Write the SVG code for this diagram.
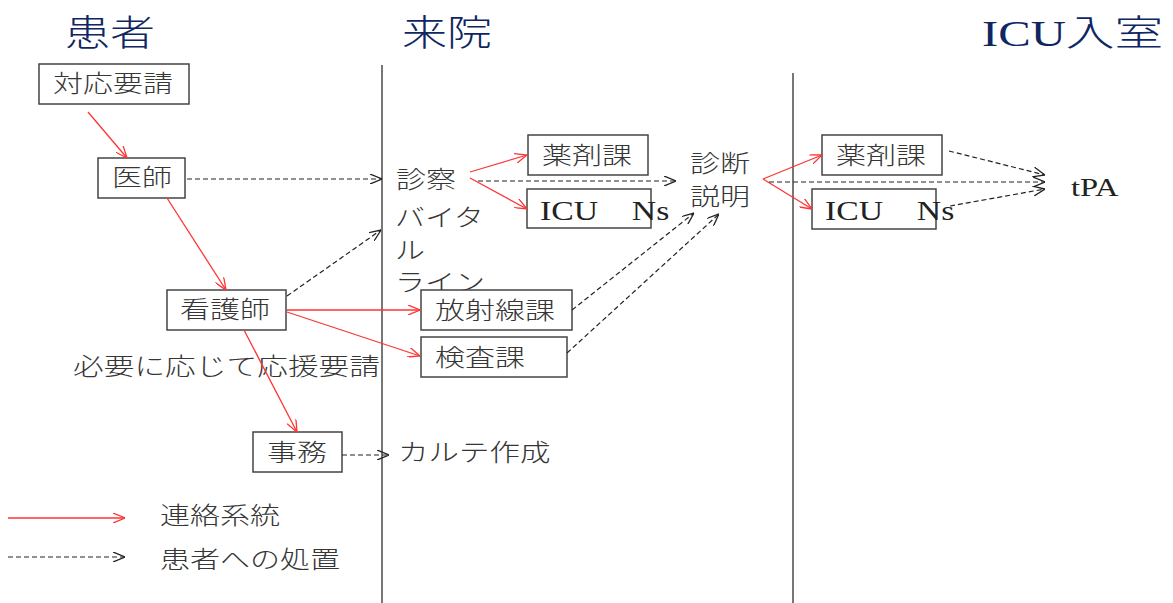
<svg xmlns="http://www.w3.org/2000/svg" width="1173" height="603" viewBox="0 0 1173 603">
<style>
  text { font-family: "Liberation Serif", "Noto Sans CJK JP", serif; }
  .t { font-size: 24px; fill: #363636; font-weight: 300; dominant-baseline: central; }
  .lat { font-size: 27px; fill: #222; }
  .tpa { font-size: 26px; fill: #222; }
  .title { font-size: 36px; fill: #0e2763; font-weight: 300; }
  .box { fill: #fff; stroke: #444; stroke-width: 1.5; }
  .lane { stroke: #555; stroke-width: 1.6; fill: none; }
  .red { stroke: #ff3434; stroke-width: 1.3; fill: none; marker-end: url(#ar); }
  .dash { stroke: #222; stroke-width: 1.2; fill: none; stroke-dasharray: 5 3; marker-end: url(#ad); }
</style>
<defs>
  <marker id="ar" viewBox="0 0 12 10" markerWidth="12" markerHeight="10" refX="12" refY="5" orient="auto" markerUnits="userSpaceOnUse">
    <path d="M0,0 L12,5 L0,10" fill="none" stroke="#ff3434" stroke-width="1.3"/>
  </marker>
  <marker id="ad" viewBox="0 0 12 10" markerWidth="12" markerHeight="10" refX="12" refY="5" orient="auto" markerUnits="userSpaceOnUse">
    <path d="M0,0 L12,5 L0,10" fill="none" stroke="#222" stroke-width="1.3"/>
  </marker>
</defs>
<rect width="1173" height="603" fill="#fff"/>

<g id="titles">
  <text class="title" transform="translate(65,46) scale(1.25,1)">患者</text>
  <text class="title" transform="translate(402,46) scale(1.25,1)">来院</text>
  <text class="title" transform="translate(982,46) scale(1.25,1)" textLength="145" lengthAdjust="spacingAndGlyphs">ICU入室</text>
</g>

<g id="lanes">
  <line class="lane" x1="382" y1="65" x2="382" y2="603"/>
  <line class="lane" x1="793" y1="73" x2="793" y2="603"/>
</g>

<g id="n-taiou">
  <rect class="box" x="39" y="64" width="150" height="40"/>
  <text class="t" transform="translate(53,84) scale(1.25,1)">対応要請</text>
</g>
<g id="n-ishi">
  <rect class="box" x="98" y="158" width="87" height="40"/>
  <text class="t" transform="translate(112,178) scale(1.25,1)">医師</text>
</g>
<g id="n-kangoshi">
  <rect class="box" x="167" y="290" width="119" height="40"/>
  <text class="t" transform="translate(180,310) scale(1.25,1)">看護師</text>
</g>
<g id="n-ouen">
  <text class="t" transform="translate(73,367) scale(1.28,1)">必要に応じて応援要請</text>
</g>
<g id="n-jimu">
  <rect class="box" x="253" y="432" width="89" height="40"/>
  <text class="t" transform="translate(267,453) scale(1.25,1)">事務</text>
</g>
<g id="n-karte">
  <text class="t" transform="translate(398,453) scale(1.27,1)">カルテ作成</text>
</g>
<g id="n-shinsatsu">
  <text class="t" transform="translate(396,180) scale(1.25,1)">診察</text>
</g>
<g id="n-vital">
  <text class="t" transform="translate(395,218) scale(1.25,1)">バイタ</text>
  <text class="t" transform="translate(395,251) scale(1.25,1)">ル</text>
  <text class="t" transform="translate(395,283) scale(1.25,1)">ライン</text>
</g>
<g id="n-yakuzai1">
  <rect class="box" x="528" y="135" width="120" height="40"/>
  <text class="t" transform="translate(542,156) scale(1.25,1)">薬剤課</text>
</g>
<g id="n-icu1">
  <rect class="box" x="527" y="189" width="124" height="39"/>
  <text class="lat" transform="translate(540,220) scale(1.25,1)">ICU　Ns</text>
</g>
<g id="n-houshasen">
  <rect class="box" x="421" y="290" width="151" height="40"/>
  <text class="t" transform="translate(435,311) scale(1.25,1)">放射線課</text>
</g>
<g id="n-kensa">
  <rect class="box" x="421" y="337" width="146" height="40"/>
  <text class="t" transform="translate(435,358) scale(1.25,1)">検査課</text>
</g>
<g id="n-shindan">
  <text class="t" transform="translate(690,164) scale(1.25,1)">診断</text>
  <text class="t" transform="translate(690,197) scale(1.25,1)">説明</text>
</g>
<g id="n-yakuzai2">
  <rect class="box" x="822" y="135" width="120" height="40"/>
  <text class="t" transform="translate(836,156) scale(1.25,1)">薬剤課</text>
</g>
<g id="n-icu2">
  <rect class="box" x="812" y="189" width="124" height="40"/>
  <text class="lat" transform="translate(825,220) scale(1.25,1)">ICU　Ns</text>
</g>
<g id="n-tpa">
  <text class="tpa" transform="translate(1071,196) scale(1.25,1)">tPA</text>
</g>

<g id="legend">
  <path class="red" d="M8,518 L125,518"/>
  <text class="t" transform="translate(160,516) scale(1.25,1)">連絡系統</text>
  <path class="dash" d="M8,557 L125,557"/>
  <text class="t" transform="translate(160,560) scale(1.25,1)">患者への処置</text>
</g>

<g id="connectors">
  <path class="red" d="M88,112 L127,158"/>
  <path class="red" d="M167,198 L226,290"/>
  <path class="red" d="M244,330 L297,432"/>
  <path class="red" d="M287,310 L420,310"/>
  <path class="red" d="M287,312 L420,356"/>
  <path class="red" d="M470,172 L527,155"/>
  <path class="red" d="M470,178 L527,209"/>
  <path class="red" d="M763,179 L822,155"/>
  <path class="red" d="M763,179 L812,209"/>
  <path class="dash" d="M187,179 L382,179"/>
  <path class="dash" d="M287,296 L381,230"/>
  <path class="dash" d="M342,455 L389,455"/>
  <path class="dash" d="M478,181 L676,181"/>
  <path class="dash" d="M572,310 L694,213"/>
  <path class="dash" d="M567,353 L719,214"/>
  <path class="dash" d="M769,182 L1045,182"/>
  <path class="dash" d="M949,151 L1045,175"/>
  <path class="dash" d="M950,206 L1045,189"/>
</g>
</svg>
